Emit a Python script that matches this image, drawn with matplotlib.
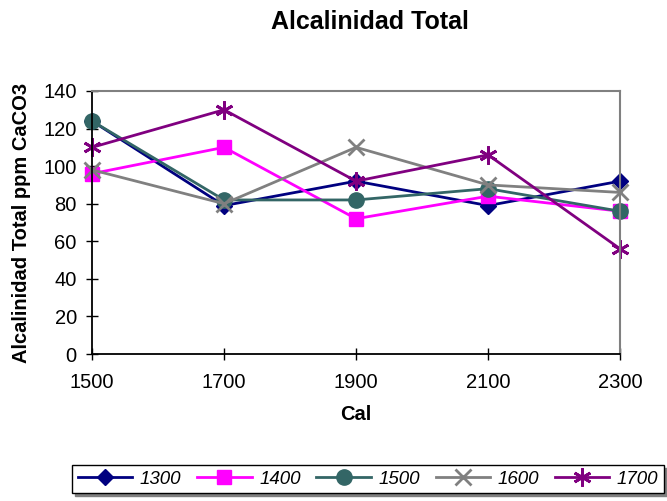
import matplotlib
matplotlib.use("Agg")
import matplotlib.pyplot as plt

plt.rcParams['font.family'] = ['Liberation Sans', 'DejaVu Sans']

cal = [1500, 1700, 1900, 2100, 2300]
series_names = ['1300', '1400', '1500', '1600', '1700']
s1300 = [124, 79, 92, 79, 92]
s1400 = [96, 110, 72, 84, 76]
s1500 = [124, 82, 82, 88, 76]
s1600 = [98, 80, 110, 90, 86]
s1700 = [110, 130, 92, 106, 56]

styles = [
    dict(color='#000080', marker='D', markersize=8),
    dict(color='#FF00FF', marker='s', markersize=10),
    dict(color='#336666', marker='o', markersize=11),
    dict(color='#808080', marker='x', markersize=11, markeredgewidth=2),
    dict(color='#800080', marker=(6, 2, 0), markersize=13, markeredgewidth=2),
]

fig = plt.figure(figsize=(6.67, 5.01), dpi=100)
ax = fig.add_axes([0.138, 0.2934, 0.7916, 0.525])

for name, vals, st in zip(series_names, [s1300, s1400, s1500, s1600, s1700], styles):
    ax.plot(cal, vals, linewidth=2, label=name, clip_on=False, **st)

ax.set_xlim(1500, 2300)
ax.set_ylim(0, 140)
ax.set_xticks(cal)
ax.set_yticks(range(0, 141, 20))
ax.tick_params(axis='both', direction='inout', length=8, width=1, labelsize=14.5, color='black')
ax.tick_params(axis='x', pad=10)
ax.tick_params(axis='y', pad=7)

for side in ['left', 'bottom']:
    ax.spines[side].set_color('black')
    ax.spines[side].set_linewidth(1.3)
for side in ['top', 'right']:
    ax.spines[side].set_color('#808080')
    ax.spines[side].set_linewidth(1.5)

ax.set_xlabel('Cal', fontsize=14.5, fontweight='bold', labelpad=9)
ax.set_ylabel('Alcalinidad Total ppm CaCO3', fontsize=14.5, fontweight='bold', labelpad=9)
fig.text(0.555, 0.956, 'Alcalinidad Total', ha='center', va='center', fontsize=18, fontweight='bold')

leg = fig.legend(loc='center', bbox_to_anchor=(0.552, 0.044), ncol=5, frameon=True,
                 fancybox=False, edgecolor='black', prop={'style': 'italic', 'size': 13.5},
                 handlelength=2.9, columnspacing=0.85, handletextpad=0.4, borderpad=0.3,
                 borderaxespad=0, shadow={'color': '#808080', 'alpha': 1})
leg.get_frame().set_linewidth(1)

fig.savefig('out.png', dpi=100)
